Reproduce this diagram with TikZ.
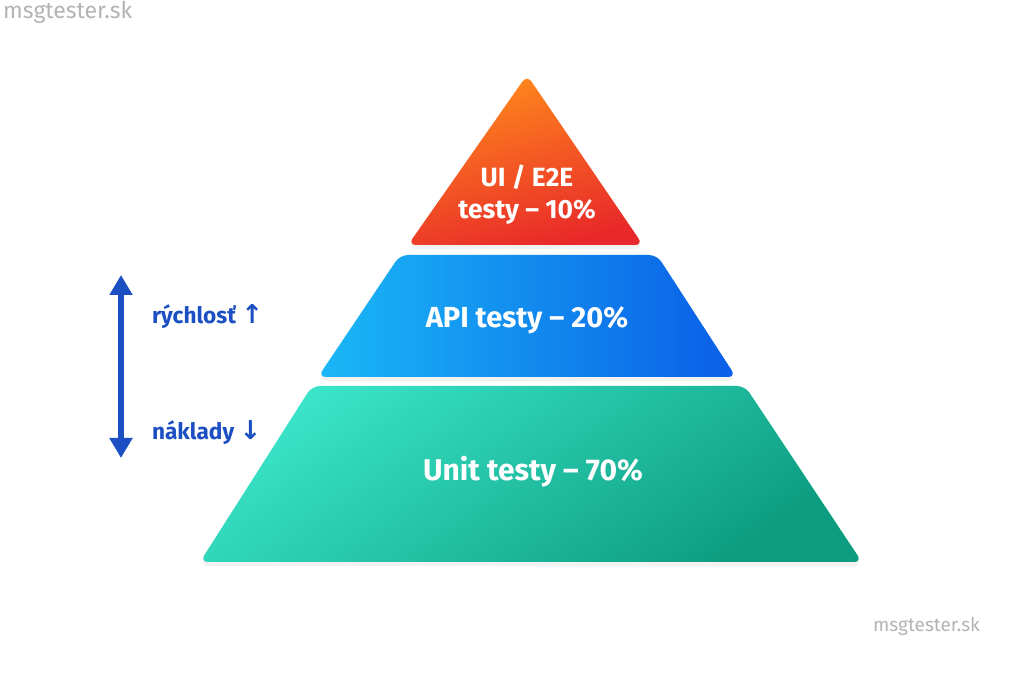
\documentclass[tikz,border=0pt]{standalone}
\usepackage{fontspec}
\setmainfont{Fira Sans}
\newfontfamily\arrowfont{DejaVu Sans}
\usepackage{xcolor}
\usetikzlibrary{positioning, arrows.meta, shadows}

\definecolor{uitop}{HTML}{FF8A1C}
\definecolor{uibot}{HTML}{E8282A}
\definecolor{apileft}{HTML}{1AB8F7}
\definecolor{apiright}{HTML}{0A5EE6}
\definecolor{unittop}{HTML}{3AE4C8}
\definecolor{unitmid}{HTML}{10C6A6}
\definecolor{unitbot}{HTML}{0C9C80}
\definecolor{sideblue}{HTML}{1B4FC2}
\definecolor{markgray}{HTML}{B4B4B4}

\tikzset{
  layer/.style={rounded corners=4pt, drop shadow={shadow xshift=0pt, shadow yshift=-2pt, opacity=0.05, fill=black}},
  layer text/.style={text=white, font=\fontsize{14.5}{14}\selectfont\bfseries, align=center},
  side text/.style={text=sideblue, font=\fontsize{11.3}{13}\selectfont\bfseries, anchor=west},
  watermark/.style={text=markgray, font=\fontsize{9.5}{12}\selectfont}
}

\begin{document}
\begin{tikzpicture}[x=0.5pt, y=-0.5pt]
\useasboundingbox[fill=white] (0,0) rectangle (1024,683);

% pyramid layers
\shade[layer, top color=uitop, bottom color=uibot, shading angle=15] (527,75) -- (643,245) -- (408,245) -- cycle;
\shade[layer, left color=apileft, right color=apiright] (400,255) -- (657,255) -- (736,377) -- (318,377) -- cycle;
\shade[layer, top color=unittop, middle color=unitmid, bottom color=unitbot, shading angle=35] (312,386) -- (745,386) -- (862,562) -- (200,562) -- cycle;

\node[layer text, font=\fontsize{13.2}{16}\selectfont\bfseries] (ui) at (527,195) {UI / E2E\\testy – 10\%};
\node[layer text] (api) at (527,320) {API testy – 20\%};
\node[layer text, font=\fontsize{15}{15}\selectfont\bfseries] (unit) at (533,472) {Unit testy – 70\%};

% speed / cost axis
\coordinate (fast) at (121,275);
\coordinate (cheap) at (121,458);
\draw[{Triangle[width=11pt, length=10pt]}-{Triangle[width=11pt, length=10pt]}, line width=3pt, sideblue] (fast) -- (cheap);
\node[side text] (speed) at (145,316) {rýchlosť {\arrowfont\fontsize{13}{13}\selectfont ↑}};
\node[side text] (cost) at (145,433) {náklady {\arrowfont\fontsize{13}{13}\selectfont ↓}};

% watermarks
\node[watermark, anchor=west, font=\fontsize{11.5}{13}\selectfont] (mark1) at (-4,12) {msgtester.sk};
\node[watermark, anchor=west] (mark2) at (866,626) {msgtester.sk};
\end{tikzpicture}
\end{document}
